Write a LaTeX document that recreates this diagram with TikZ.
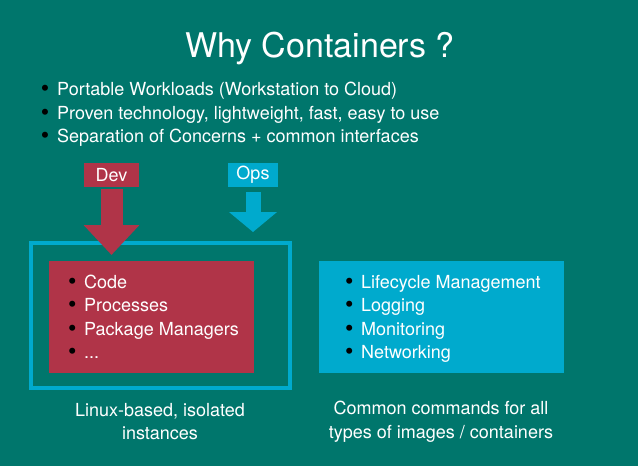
\documentclass[tikz,border=0pt]{standalone}
\usepackage{fontspec}
\setmainfont{TeX Gyre Heros}
\usetikzlibrary{arrows.meta}
\definecolor{slidebg}{RGB}{0,118,108}
\definecolor{devred}{RGB}{176,52,72}
\definecolor{opscyan}{RGB}{0,170,205}
\newcommand{\bul}{\makebox[12pt][c]{\textcolor{black}{\fontsize{24}{24}\selectfont\raisebox{-1.5pt}{\textbullet}}}\hspace{6pt}}
\tikzset{
  txt/.style={text=white, font=\fontsize{18}{23.5}\selectfont, inner sep=0pt},
  item/.style={txt, anchor=base west},
  tag/.style={txt, fill=#1, minimum height=24pt},
  devarrow/.style={draw=devred, line width=22pt, shorten <=2pt, -{Triangle[width=54pt,length=30pt]}},
  opsarrow/.style={draw=opscyan, line width=15pt, shorten <=5pt, -{Triangle[width=47pt,length=20pt]}}
}
\begin{document}
\begin{tikzpicture}[x=1pt,y=-1pt]
  \fill[slidebg] (0,0) rectangle (638,466);
  \useasboundingbox (0,0) rectangle (638,466);

  \node[txt, font=\fontsize{34}{40}\selectfont, anchor=base] (title) at (320,57) {Why Containers ?};

  \node[item] (why1) at (39,95) {\bul Portable Workloads (Workstation to Cloud)};
  \node[item] (why2) at (39,119) {\bul Proven technology, lightweight, fast, easy to use};
  \node[item] (why3) at (39,142) {\bul Separation of Concerns + common interfaces};

  \node[tag=devred, minimum width=55pt] (dev) at (111.5,175) {Dev};
  \node[tag=opscyan, minimum width=50pt] (ops) at (253,175) {Ops};

  \node[draw=opscyan, line width=4pt, minimum width=259pt, minimum height=145pt] (frame) at (160.5,315.5) {};
  \node[fill=devred, minimum width=205pt, minimum height=112pt] (devbox) at (151.5,317) {};
  \node[fill=opscyan, minimum width=245pt, minimum height=112pt] (opsbox) at (441.5,317) {};

  \coordinate (devtip) at (111.5,255);
  \coordinate (opstip) at (253,232);
  \draw[devarrow] (dev.south) -- (devtip);
  \draw[opsarrow] (ops.south) -- (opstip);

  \node[item] (code) at (66,288) {\bul Code};
  \node[item] (proc) at (66,311) {\bul Processes};
  \node[item] (pkg) at (66,335) {\bul Package Managers};
  \node[item] (more) at (66,358) {\bul ...};

  \node[item] (life) at (343,288) {\bul Lifecycle Management};
  \node[item] (logs) at (343,311) {\bul Logging};
  \node[item] (mon) at (343,335) {\bul Monitoring};
  \node[item] (net) at (343,358) {\bul Networking};

  \node[txt, align=center] (linuxcap) at (160,421.5) {Linux-based, isolated\\instances};
  \node[txt, align=center] (cmdcap) at (441,421.5) {Common commands for all\\types of images / containers};
\end{tikzpicture}
\end{document}
